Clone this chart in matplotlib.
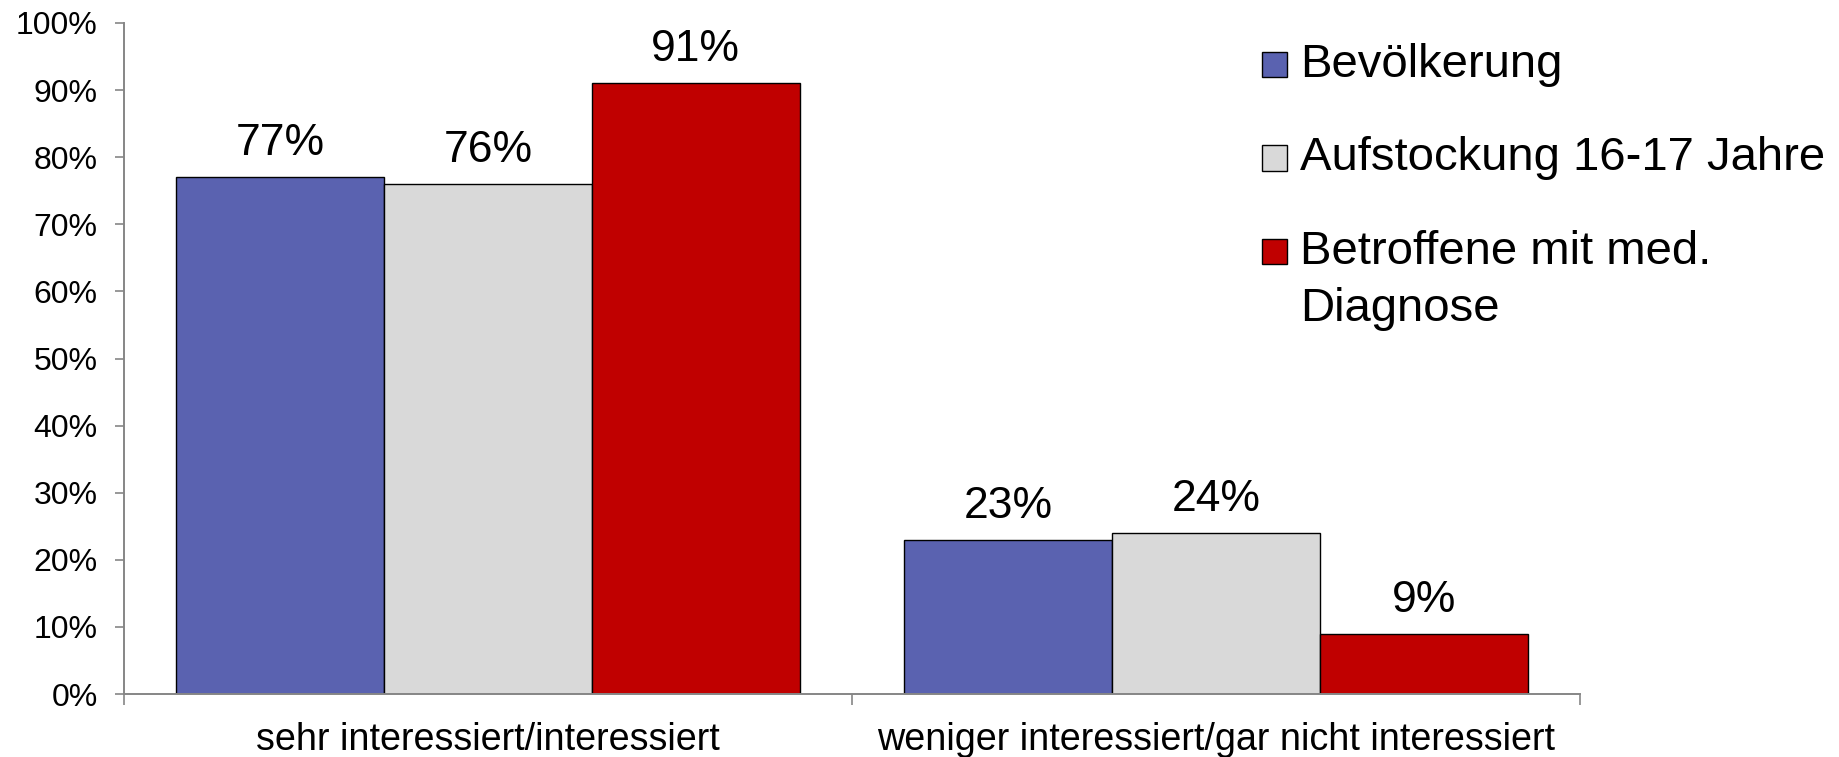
import matplotlib
matplotlib.use("Agg")
import matplotlib.pyplot as plt
import numpy as np
from matplotlib.patches import Rectangle
from matplotlib.ticker import FuncFormatter

plt.rcParams['font.family'] = ['Liberation Sans', 'DejaVu Sans']

# Data
categories = ['sehr interessiert/interessiert', 'weniger interessiert/gar nicht interessiert']
series = ['Bevölkerung', 'Aufstockung 16-17 Jahre', 'Betroffene mit med.\nDiagnose']
values = {
    'Bevölkerung': [77, 23],
    'Aufstockung 16-17 Jahre': [76, 24],
    'Betroffene mit med.\nDiagnose': [91, 9],
}
colors = ['#5A62B0', '#D9D9D9', '#C00000']

W, H = 1840, 757
fig = plt.figure(figsize=(W / 100, H / 100), dpi=100)
ax = fig.add_axes([124 / W, (H - 694) / H, (1580 - 124) / W, (694 - 23) / H])

# Bar width
w = 0.2855
x = np.arange(len(categories))

for i, (name, col) in enumerate(zip(series, colors)):
    bars = ax.bar(x + (i - 1) * w, values[name], width=w, color=col,
                  edgecolor='black', linewidth=1.0, zorder=2)
    for b, v in zip(bars, values[name]):
        ax.annotate(f'{v}%', (b.get_x() + b.get_width() / 2, v),
                    xytext=(0, 15.8), textcoords='offset points',
                    ha='center', va='baseline', fontsize=32)

ax.set_xlim(-0.5, 1.5)
ax.set_ylim(0, 100)

grey = '#868686'
for s in ['top', 'right']:
    ax.spines[s].set_visible(False)
for s in ['left', 'bottom']:
    ax.spines[s].set_color(grey)
    ax.spines[s].set_linewidth(1.4)

ax.set_yticks(np.arange(0, 101, 10))
ax.yaxis.set_major_formatter(FuncFormatter(lambda v, p: f'{v:.0f}%'))
ax.tick_params(axis='y', direction='out', length=6.5, width=1.2, color=grey,
               pad=12.5, labelsize=23)

# category boundaries as ticks, labels at centres
ax.set_xticks([-0.5, 0.5, 1.5])
ax.set_xticklabels([])
ax.set_xticks(x, minor=True)
ax.set_xticklabels(categories, minor=True)
ax.tick_params(axis='x', which='major', direction='out', length=8, width=1.2, color=grey)
ax.tick_params(axis='x', which='minor', length=0, pad=20.5, labelsize=27.2)

# Legend
baselines = [77, 170.5, 264]
line_step = 57
for name, col, bl in zip(series, colors, baselines):
    cy = bl - 12.5
    fig.add_artist(Rectangle((1262 / W, (H - cy - 12.5) / H), 25 / W, 25 / H,
                             transform=fig.transFigure, facecolor=col,
                             edgecolor='black', linewidth=1.0))
    for k, line in enumerate(name.split('\n')):
        fig.text(1300 / W, (H - bl - k * line_step) / H, line,
                 ha='left', va='baseline', fontsize=34)

fig.savefig('out.png', dpi=100)
